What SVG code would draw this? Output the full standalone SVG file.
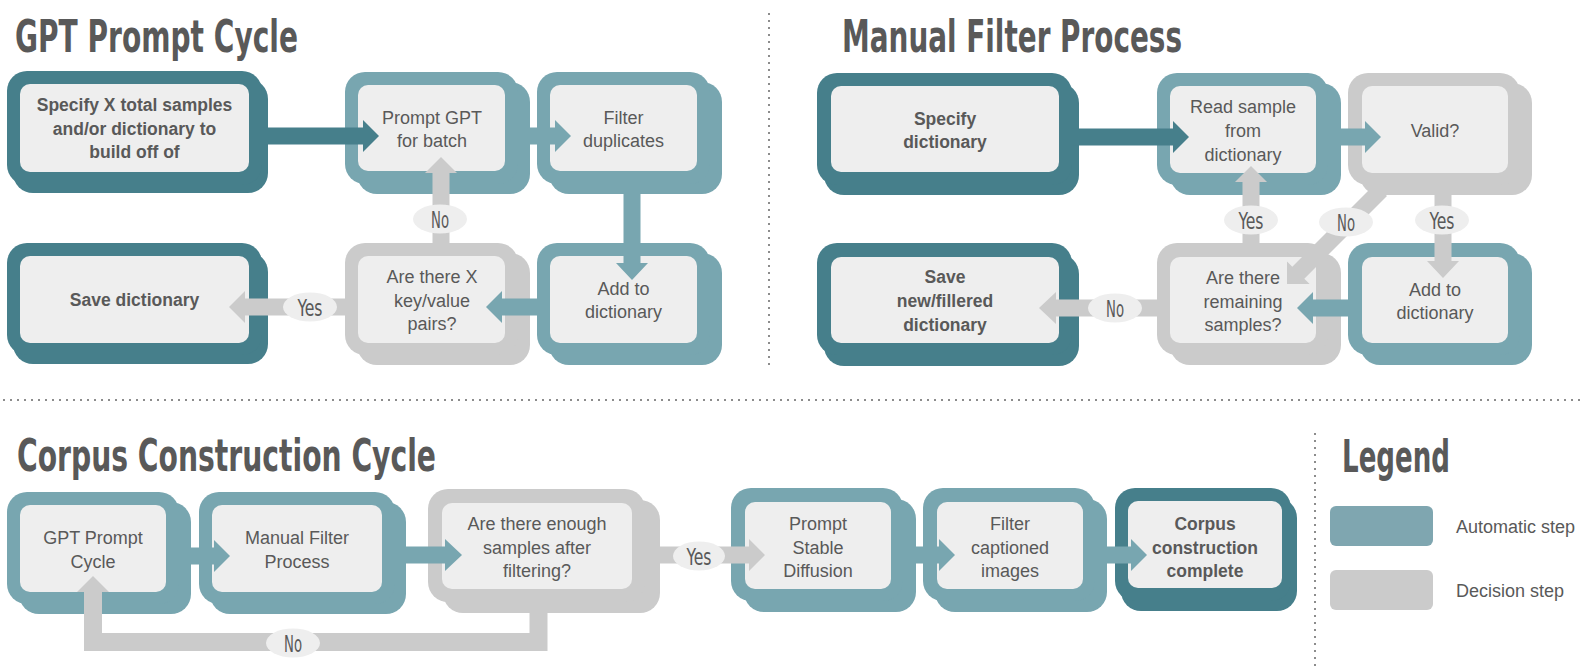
<svg xmlns="http://www.w3.org/2000/svg" width="1584" height="668" viewBox="0 0 1584 668">
<style>
.dk{fill:#467f8b}.lt{fill:#78a6b0}.gy{fill:#cbcbcb}.in{fill:#eeeeee}
.t{font-family:'Liberation Sans',Arial,sans-serif;font-size:18px;fill:#595959;text-anchor:middle}
.b{font-weight:bold;font-size:17.5px}
.lab{font-family:'DejaVu Sans Condensed','DejaVu Sans',sans-serif;font-stretch:condensed;font-size:23px;fill:#595959;text-anchor:middle}
.ttl{font-family:'DejaVu Sans Condensed','DejaVu Sans',sans-serif;font-stretch:condensed;font-weight:bold;font-size:44px;fill:#595959}
.ell{fill:#eeeeee}
.dot{stroke:#8c8c8c;stroke-width:2;stroke-dasharray:2 5;fill:none}
.lg{font-family:'Liberation Sans',Arial,sans-serif;font-size:18px;fill:#595959}
</style>
<rect width="1584" height="668" fill="#ffffff"/>

<g id="separators">
<line class="dot" x1="769" y1="13" x2="769" y2="370"/>
<line class="dot" x1="3" y1="400" x2="1580" y2="400"/>
<line class="dot" x1="1315" y1="433" x2="1315" y2="668"/>
</g>

<g id="titles">
<text class="ttl" x="15" y="52" textLength="283" lengthAdjust="spacingAndGlyphs">GPT Prompt Cycle</text>
<text class="ttl" x="842" y="52" textLength="340" lengthAdjust="spacingAndGlyphs">Manual Filter Process</text>
<text class="ttl" x="17" y="471" textLength="419" lengthAdjust="spacingAndGlyphs">Corpus Construction Cycle</text>
<text class="ttl" x="1342" y="472" textLength="108" lengthAdjust="spacingAndGlyphs">Legend</text>
</g>

<!-- GPT Prompt Cycle -->
<g id="gpt-specify">
<rect class="dk" x="13" y="79" width="255" height="114" rx="20"/>
<rect class="dk" x="7" y="71" width="255" height="114" rx="20"/>
<rect class="in" x="20" y="84" width="229" height="88" rx="10"/>
<text class="t b"><tspan x="134.5" y="111">Specify X total samples</tspan><tspan x="134.5" y="134.5">and/or dictionary to</tspan><tspan x="134.5" y="158">build off of</tspan></text>
</g>
<g id="gpt-prompt">
<rect class="lt" x="357" y="82" width="173" height="112" rx="20"/>
<rect class="lt" x="345" y="72" width="173" height="112" rx="20"/>
<rect class="in" x="358" y="85" width="147" height="86" rx="10"/>
<text class="t"><tspan x="432" y="124">Prompt GPT</tspan><tspan x="432" y="147">for batch</tspan></text>
</g>
<g id="gpt-filter">
<rect class="lt" x="549" y="82" width="173" height="112" rx="20"/>
<rect class="lt" x="537" y="72" width="173" height="112" rx="20"/>
<rect class="in" x="550" y="85" width="147" height="86" rx="10"/>
<text class="t"><tspan x="623.5" y="124">Filter</tspan><tspan x="623.5" y="147">duplicates</tspan></text>
</g>
<g id="gpt-add">
<rect class="lt" x="549" y="253" width="173" height="112" rx="20"/>
<rect class="lt" x="537" y="243" width="173" height="112" rx="20"/>
<rect class="in" x="550" y="256" width="147" height="87" rx="10"/>
<text class="t"><tspan x="623.5" y="295">Add to</tspan><tspan x="623.5" y="318">dictionary</tspan></text>
</g>
<g id="gpt-check">
<rect class="gy" x="357" y="253" width="173" height="112" rx="20"/>
<rect class="gy" x="345" y="243" width="173" height="112" rx="20"/>
<rect class="in" x="358" y="256" width="147" height="87" rx="10"/>
<text class="t"><tspan x="432" y="283">Are there X</tspan><tspan x="432" y="306.5">key/value</tspan><tspan x="432" y="330">pairs?</tspan></text>
</g>
<g id="gpt-save">
<rect class="dk" x="13" y="252" width="255" height="112" rx="20"/>
<rect class="dk" x="7" y="243" width="255" height="112" rx="20"/>
<rect class="in" x="20" y="256" width="229" height="87" rx="10"/>
<text class="t b" x="134.5" y="306">Save dictionary</text>
</g>

<!-- Manual Filter Process -->
<g id="mf-specify">
<rect class="dk" x="824" y="83" width="255" height="112" rx="20"/>
<rect class="dk" x="817" y="73" width="255" height="112" rx="20"/>
<rect class="in" x="831" y="86" width="228" height="86" rx="10"/>
<text class="t b"><tspan x="945" y="125">Specify</tspan><tspan x="945" y="148">dictionary</tspan></text>
</g>
<g id="mf-read">
<rect class="lt" x="1170" y="83" width="171" height="112" rx="20"/>
<rect class="lt" x="1157" y="73" width="171" height="112" rx="20"/>
<rect class="in" x="1170" y="86" width="146" height="87" rx="10"/>
<text class="t"><tspan x="1243" y="113">Read sample</tspan><tspan x="1243" y="137">from</tspan><tspan x="1243" y="161">dictionary</tspan></text>
</g>
<g id="mf-valid">
<rect class="gy" x="1360" y="83" width="172" height="112" rx="20"/>
<rect class="gy" x="1348" y="73" width="172" height="112" rx="20"/>
<rect class="in" x="1362" y="86" width="146" height="87" rx="10"/>
<text class="t" x="1435" y="137">Valid?</text>
</g>
<g id="mf-remaining">
<rect class="gy" x="1170" y="253" width="171" height="112" rx="20"/>
<rect class="gy" x="1157" y="243" width="171" height="112" rx="20"/>
<rect class="in" x="1170" y="257" width="146" height="86" rx="10"/>
<text class="t"><tspan x="1243" y="284">Are there</tspan><tspan x="1243" y="307.5">remaining</tspan><tspan x="1243" y="331">samples?</tspan></text>
</g>
<g id="mf-add">
<rect class="lt" x="1360" y="253" width="172" height="112" rx="20"/>
<rect class="lt" x="1348" y="243" width="172" height="112" rx="20"/>
<rect class="in" x="1362" y="257" width="146" height="86" rx="10"/>
<text class="t"><tspan x="1435" y="296">Add to</tspan><tspan x="1435" y="319">dictionary</tspan></text>
</g>
<g id="mf-save">
<rect class="dk" x="824" y="254" width="255" height="112" rx="20"/>
<rect class="dk" x="817" y="243" width="255" height="112" rx="20"/>
<rect class="in" x="831" y="257" width="228" height="86" rx="10"/>
<text class="t b"><tspan x="945" y="283">Save</tspan><tspan x="945" y="307">new/fillered</tspan><tspan x="945" y="331">dictionary</tspan></text>
</g>

<!-- Corpus Construction Cycle -->
<g id="cc-gpt">
<rect class="lt" x="19" y="502" width="172" height="112" rx="20"/>
<rect class="lt" x="7" y="492" width="172" height="112" rx="20"/>
<rect class="in" x="20" y="505" width="146" height="87" rx="10"/>
<text class="t"><tspan x="93" y="544">GPT Prompt</tspan><tspan x="93" y="568">Cycle</tspan></text>
</g>
<g id="cc-manual">
<rect class="lt" x="210" y="502" width="196" height="112" rx="20"/>
<rect class="lt" x="199" y="492" width="196" height="112" rx="20"/>
<rect class="in" x="212" y="505" width="170" height="87" rx="10"/>
<text class="t"><tspan x="297" y="544">Manual Filter</tspan><tspan x="297" y="568">Process</tspan></text>
</g>
<g id="cc-enough">
<rect class="gy" x="443" y="500" width="217" height="113" rx="20"/>
<rect class="gy" x="428" y="489" width="217" height="113" rx="20"/>
<rect class="in" x="442" y="503" width="190" height="86" rx="10"/>
<text class="t"><tspan x="537" y="530">Are there enough</tspan><tspan x="537" y="553.5">samples after</tspan><tspan x="537" y="577">filtering?</tspan></text>
</g>
<g id="cc-stable">
<rect class="lt" x="744" y="499" width="172" height="113" rx="20"/>
<rect class="lt" x="731" y="488" width="172" height="113" rx="20"/>
<rect class="in" x="745" y="502" width="146" height="87" rx="10"/>
<text class="t"><tspan x="818" y="530">Prompt</tspan><tspan x="818" y="553.5">Stable</tspan><tspan x="818" y="577">Diffusion</tspan></text>
</g>
<g id="cc-filter">
<rect class="lt" x="935" y="499" width="172" height="113" rx="20"/>
<rect class="lt" x="923" y="488" width="172" height="113" rx="20"/>
<rect class="in" x="937" y="502" width="146" height="87" rx="10"/>
<text class="t"><tspan x="1010" y="530">Filter</tspan><tspan x="1010" y="553.5">captioned</tspan><tspan x="1010" y="577">images</tspan></text>
</g>
<g id="cc-complete">
<rect class="dk" x="1121" y="498" width="176" height="113" rx="20"/>
<rect class="dk" x="1115" y="488" width="176" height="113" rx="20"/>
<rect class="in" x="1128" y="501" width="154" height="87" rx="10"/>
<text class="t b"><tspan x="1205" y="530">Corpus</tspan><tspan x="1205" y="553.5">construction</tspan><tspan x="1205" y="577">complete</tspan></text>
</g>

<!-- Legend -->
<g id="legend">
<rect x="1330" y="506" width="103" height="40" rx="6" fill="#7fa6b0"/>
<text class="lg" x="1456" y="533">Automatic step</text>
<rect x="1330" y="570" width="103" height="40" rx="6" fill="#cbcbcb"/>
<text class="lg" x="1456" y="597">Decision step</text>
</g>

<g id="connectors">
<!-- GPT -->
<polygon class="dk" points="262,127.5 363,127.5 363,120 379,136 363,152 363,144.5 262,144.5"/>
<polygon class="lt" points="518,127.5 555,127.5 555,120 571,136 555,152 555,144.5 518,144.5"/>
<polygon class="lt" points="623.5,194 640.5,194 640.5,263 648,263 632,280 616,263 623.5,263"/>
<polygon class="lt" points="537,298.5 502,298.5 502,291 486,307 502,323 502,315.5 537,315.5"/>
<polygon class="gy" points="432.5,243 432.5,173 425,173 441,157 457,173 449.5,173 449.5,243"/>
<polygon class="gy" points="345,298.5 245,298.5 245,291 229,307 245,323 245,315.5 345,315.5"/>
<ellipse class="ell" cx="440" cy="219" rx="27" ry="14.5"/>
<text class="lab" x="440" y="227.5" textLength="18" lengthAdjust="spacingAndGlyphs">No</text>
<ellipse class="ell" cx="310" cy="307" rx="27" ry="14.5"/>
<text class="lab" x="310" y="315.5" textLength="25" lengthAdjust="spacingAndGlyphs">Yes</text>
<!-- Manual filter -->
<polygon class="dk" points="1072,128.5 1173,128.5 1173,121 1189,137 1173,153 1173,145.5 1072,145.5"/>
<polygon class="lt" points="1328,128.5 1365,128.5 1365,121 1381,137 1365,153 1365,145.5 1328,145.5"/>
<polygon class="gy" points="1375,184 1292.3,266.7 1287,261.4 1287,284 1309.6,284 1304.3,278.7 1387,196"/>
<polygon class="gy" points="1434.5,195 1451.5,195 1451.5,261 1459,261 1443,278 1427,261 1434.5,261"/>
<polygon class="lt" points="1348,299.5 1313,299.5 1313,292 1297,308 1313,324 1313,316.5 1348,316.5"/>
<polygon class="gy" points="1242.5,243 1242.5,182 1235,182 1251,166 1267,182 1259.5,182 1259.5,243"/>
<polygon class="gy" points="1157,299.5 1056,299.5 1056,292 1039,308 1056,324 1056,316.5 1157,316.5"/>
<ellipse class="ell" cx="1251" cy="220" rx="27" ry="14.5"/>
<text class="lab" x="1251" y="228.5" textLength="25" lengthAdjust="spacingAndGlyphs">Yes</text>
<ellipse class="ell" cx="1346" cy="222" rx="27" ry="14.5"/>
<text class="lab" x="1346" y="230.5" textLength="18" lengthAdjust="spacingAndGlyphs">No</text>
<ellipse class="ell" cx="1442" cy="220" rx="27" ry="14.5"/>
<text class="lab" x="1442" y="228.5" textLength="25" lengthAdjust="spacingAndGlyphs">Yes</text>
<ellipse class="ell" cx="1115" cy="308" rx="27" ry="14.5"/>
<text class="lab" x="1115" y="316.5" textLength="18" lengthAdjust="spacingAndGlyphs">No</text>
<!-- Corpus -->
<polygon class="lt" points="191,547.5 214,547.5 214,540 230,556 214,572 214,564.5 191,564.5"/>
<polygon class="lt" points="406,546.5 445,546.5 445,539 462,555 445,571 445,563.5 406,563.5"/>
<polygon class="gy" points="660,546.5 749,546.5 749,539 765,555 749,571 749,563.5 660,563.5"/>
<polygon class="lt" points="916,546.5 939,546.5 939,539 955,555 939,571 939,563.5 916,563.5"/>
<polygon class="lt" points="1107,546.5 1131,546.5 1131,539 1147,555 1131,571 1131,563.5 1107,563.5"/>
<polygon class="gy" points="529.5,612 547.5,612 547.5,651 84,651 84,592 77,592 93,576 109,592 102,592 102,633 529.5,633"/>
<ellipse class="ell" cx="699" cy="556" rx="26" ry="14.5"/>
<text class="lab" x="699" y="564.5" textLength="25" lengthAdjust="spacingAndGlyphs">Yes</text>
<ellipse class="ell" cx="293" cy="643" rx="27" ry="14.5"/>
<text class="lab" x="293" y="651.5" textLength="18" lengthAdjust="spacingAndGlyphs">No</text>
</g>
</svg>
